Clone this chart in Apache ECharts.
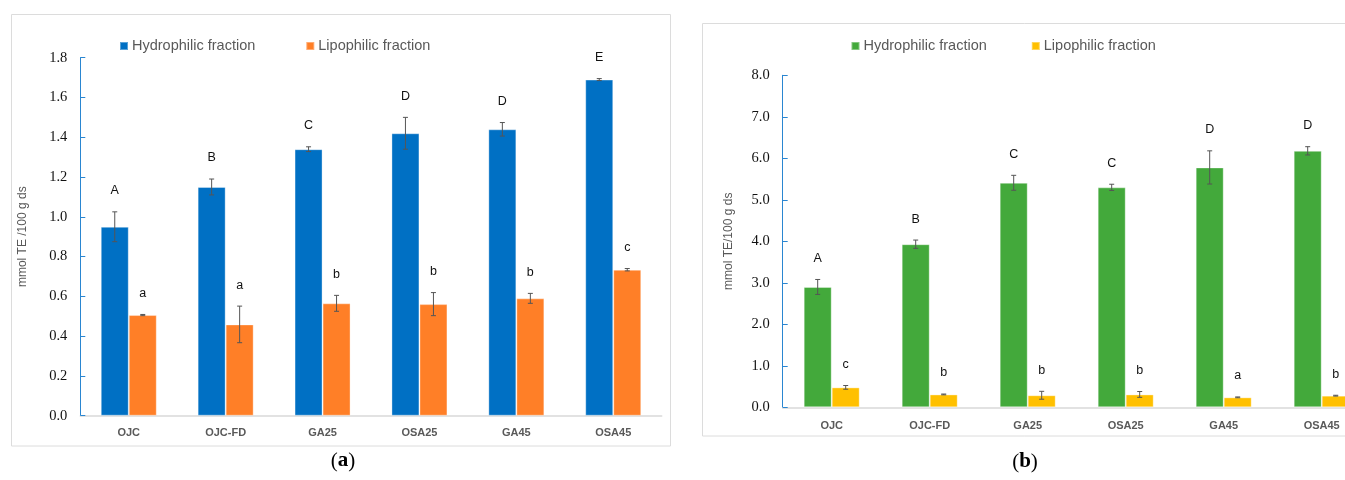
<!DOCTYPE html>
<html>
<head>
<meta charset="utf-8">
<script src="https://cdn.jsdelivr.net/npm/echarts@6/dist/echarts.min.js"></script>
<style>
html,body{margin:0;padding:0;background:#fff;}
#c{width:1345px;height:480px;}
</style>
</head>
<body>
<div id="c"></div>
<script>
// ---------- data ----------
const categories = ['OJC', 'OJC-FD', 'GA25', 'OSA25', 'GA45', 'OSA45'];

// panel (a)
const hydroA = [0.95, 1.15, 1.34, 1.42, 1.44, 1.69];
const hydroAErr = [0.075, 0.04, 0.012, 0.08, 0.034, 0.005];
const hydroALetters = ['A', 'B', 'C', 'D', 'D', 'E'];
const lipoA = [0.506, 0.459, 0.565, 0.561, 0.59, 0.734];
const lipoAErr = [0.003, 0.092, 0.04, 0.058, 0.025, 0.006];
const lipoALetters = ['a', 'a', 'b', 'b', 'b', 'c'];
const yTicksA = [0, 0.2, 0.4, 0.6, 0.8, 1.0, 1.2, 1.4, 1.6, 1.8];

// panel (b)
const hydroB = [2.90, 3.93, 5.41, 5.30, 5.78, 6.18];
const hydroBErr = [0.18, 0.10, 0.18, 0.075, 0.40, 0.10];
const hydroBLetters = ['A', 'B', 'C', 'C', 'D', 'D'];
const lipoB = [0.48, 0.31, 0.29, 0.31, 0.24, 0.28];
const lipoBErr = [0.045, 0.01, 0.095, 0.07, 0.01, 0.01];
const lipoBLetters = ['c', 'b', 'b', 'b', 'a', 'b'];
const yTicksB = [0, 1, 2, 3, 4, 5, 6, 7, 8];

const seriesNames = ['Hydrophilic fraction', 'Lipophilic fraction'];
const yAxisTitleA = 'mmol TE /100 g ds';
const yAxisTitleB = 'mmol TE/100 g ds';

// ---------- style ----------
const BLUE = '#0070C4', ORANGE = '#FF7F27', GREEN = '#43A93B', YELLOW = '#FFC000';
const BAR_W = 28;
const SANS = 'Liberation Sans';
const SERIF = 'Liberation Serif';

const chart = echarts.init(document.getElementById('c'), null, {renderer: 'canvas'});

function errRender(vals, errs, letters, offset) {
  return function (params, api) {
    const i = params.dataIndex;
    const v = vals[i], e = errs[i];
    const pTop = api.coord([i, v + e]);
    const pBot = api.coord([i, v - e]);
    const x = pTop[0] + offset;
    const cap = 2.5;
    const st = {stroke: '#555555', lineWidth: 1};
    return {
      type: 'group',
      children: [
        {type: 'line', shape: {x1: x, y1: pTop[1], x2: x, y2: pBot[1]}, style: st},
        {type: 'line', shape: {x1: x - cap, y1: pTop[1], x2: x + cap, y2: pTop[1]}, style: st},
        {type: 'line', shape: {x1: x - cap, y1: pBot[1], x2: x + cap, y2: pBot[1]}, style: st},
        {type: 'text', style: {text: letters[i], x: x, y: pTop[1] - 21,
          textAlign: 'center', textVerticalAlign: 'middle',
          font: '12.5px "' + SANS + '"', fill: '#111'}}
      ]
    };
  };
}

function errSeries(vals, errs, letters, offset, axisIdx) {
  return {
    type: 'custom',
    xAxisIndex: axisIdx, yAxisIndex: axisIdx,
    data: vals.map((v, i) => [i, v]),
    renderItem: errRender(vals, errs, letters, offset),
    z: 5, clip: false,
    silent: true
  };
}

function barSeries(name, vals, color, axisIdx) {
  return {
    name: name, type: 'bar',
    xAxisIndex: axisIdx, yAxisIndex: axisIdx,
    data: vals, barWidth: BAR_W, barGap: '0%',
    itemStyle: {color: color, borderColor: 'rgba(255,255,255,0.35)', borderWidth: 1},
    silent: true
  };
}

function yAxis(gridIdx, max, interval, ticks, title, gap) {
  return {
    type: 'value', gridIndex: gridIdx, min: 0, max: max, interval: interval,
    name: title, nameLocation: 'middle', nameRotate: 90, nameGap: gap,
    nameTextStyle: {fontFamily: SANS, fontSize: 12, color: '#595959'},
    axisLine: {show: true, lineStyle: {color: '#2a86d1', width: 1}},
    axisTick: {show: true, inside: true, length: 5, lineStyle: {color: '#2a86d1'}},
    splitLine: {show: false},
    axisLabel: {margin: 13, fontFamily: SERIF, fontSize: 14.5, color: '#111',
      formatter: v => ticks.includes(+v.toFixed(1)) ? v.toFixed(1) : ''}
  };
}

function xAxis(gridIdx, margin) {
  return {
    type: 'category', gridIndex: gridIdx, data: categories,
    axisLine: {lineStyle: {color: '#d9d9d9', width: 1.5}},
    axisTick: {show: false},
    axisLabel: {margin: margin, fontFamily: SANS, fontWeight: 'bold', fontSize: 11, color: '#595959'}
  };
}

const option = {
  animation: false,
  backgroundColor: '#ffffff',
  grid: [
    {left: 80.3, top: 57.7, width: 581.4, height: 358, outerBoundsMode: 'none', containLabel: false},
    {left: 782.7, top: 75.3, width: 588, height: 332, outerBoundsMode: 'none', containLabel: false}
  ],
  xAxis: [xAxis(0, 12), xAxis(1, 13)],
  yAxis: [
    yAxis(0, 1.8, 0.2, yTicksA, yAxisTitleA, 52),
    yAxis(1, 8, 1, yTicksB, yAxisTitleB, 48)
  ],
  legend: [
    {
      data: seriesNames, left: 114, top: 33.5, itemWidth: 8, itemHeight: 8, icon: 'rect',
      itemGap: 50, selectedMode: false,
      textStyle: {fontFamily: SANS, fontSize: 14.5, color: '#595959', padding: [0, 0, 0, -1]}
    },
    {
      data: seriesNames.map(n => n + ' (b)'), left: 845.5, top: 33.5, itemWidth: 8, itemHeight: 8, icon: 'rect',
      itemGap: 44, selectedMode: false,
      formatter: n => n.replace(' (b)', ''),
      textStyle: {fontFamily: SANS, fontSize: 14.5, color: '#595959', padding: [0, 0, 0, -1]}
    }
  ],
  graphic: [
    {type: 'rect', shape: {x: 11.5, y: 14.5, width: 659, height: 431.5},
      style: {fill: 'none', stroke: '#dcdcdc', lineWidth: 1}, z: -1, silent: true},
    {type: 'rect', shape: {x: 702.5, y: 23.5, width: 700, height: 412.5},
      style: {fill: 'none', stroke: '#dcdcdc', lineWidth: 1}, z: -1, silent: true},
    {type: 'text', x: 343, y: 461, silent: true,
      style: {text: '{n|(}{b|a}{n|)}', textAlign: 'center', textVerticalAlign: 'middle',
        rich: {n: {fontFamily: SERIF, fontSize: 21, fill: '#000'},
               b: {fontFamily: SERIF, fontSize: 21, fontWeight: 'bold', fill: '#000'}}}},
    {type: 'text', x: 1025, y: 462, silent: true,
      style: {text: '{n|(}{b|b}{n|)}', textAlign: 'center', textVerticalAlign: 'middle',
        rich: {n: {fontFamily: SERIF, fontSize: 21, fill: '#000'},
               b: {fontFamily: SERIF, fontSize: 21, fontWeight: 'bold', fill: '#000'}}}}
  ],
  series: [
    barSeries(seriesNames[0], hydroA, BLUE, 0),
    barSeries(seriesNames[1], lipoA, ORANGE, 0),
    errSeries(hydroA, hydroAErr, hydroALetters, -BAR_W / 2, 0),
    errSeries(lipoA, lipoAErr, lipoALetters, BAR_W / 2, 0),
    barSeries(seriesNames[0] + ' (b)', hydroB, GREEN, 1),
    barSeries(seriesNames[1] + ' (b)', lipoB, YELLOW, 1),
    errSeries(hydroB, hydroBErr, hydroBLetters, -BAR_W / 2, 1),
    errSeries(lipoB, lipoBErr, lipoBLetters, BAR_W / 2, 1)
  ]
};
chart.setOption(option);
</script>
</body>
</html>
